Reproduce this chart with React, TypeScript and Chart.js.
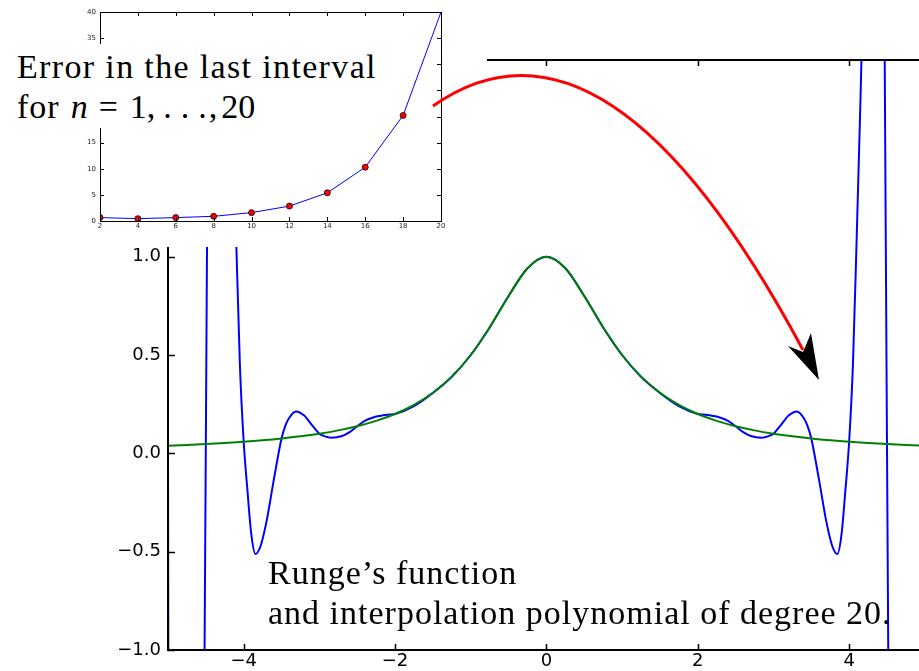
import React, { useEffect, useRef } from "react";
import { Chart, registerables } from "chart.js";

Chart.register(...registerables);

// ---- Data ----
// Runge's function samples (green)
const RUNGE_X = [-5, -4.75, -4.5, -4.25, -4, -3.75, -3.5, -3.25, -3, -2.75, -2.5, -2.25, -2, -1.75, -1.5, -1.25, -1, -0.75, -0.5, -0.25, 0,
  0.25, 0.5, 0.75, 1, 1.25, 1.5, 1.75, 2, 2.25, 2.5, 2.75, 3, 3.25, 3.5, 3.75, 4, 4.25, 4.5, 4.75, 5];
const RUNGE_Y = [0.0385, 0.0425, 0.0471, 0.0525, 0.0588, 0.0664, 0.0755, 0.0865, 0.1, 0.1168, 0.1379, 0.1649, 0.2, 0.2462, 0.3077, 0.3902, 0.5, 0.64, 0.8, 0.9412, 1,
  0.9412, 0.8, 0.64, 0.5, 0.3902, 0.3077, 0.2462, 0.2, 0.1649, 0.1379, 0.1168, 0.1, 0.0865, 0.0755, 0.0664, 0.0588, 0.0525, 0.0471, 0.0425, 0.0385];

// Interpolation polynomial of degree 20 (blue)
const POLY_X = [-5, -4.95, -4.9, -4.85, -4.8, -4.75, -4.7, -4.65, -4.6, -4.55, -4.52, -4.5, -4.47, -4.45, -4.4, -4.35, -4.3, -4.25, -4.2, -4.15, -4.1, -4.05, -4,
  -3.95, -3.9, -3.845, -3.78, -3.7, -3.6, -3.5, -3.45, -3.4, -3.31, -3.2, -3.1, -3, -2.95, -2.84, -2.7, -2.6, -2.5, -2.4, -2.3, -2.2, -2.1, -2,
  -1.75, -1.5, -1.25, -1, -0.75, -0.5, -0.25, 0, 0.25, 0.5, 0.75, 1, 1.25, 1.5, 1.75,
  2, 2.1, 2.2, 2.3, 2.4, 2.5, 2.6, 2.7, 2.84, 2.95, 3, 3.1, 3.2, 3.31, 3.4, 3.45, 3.5, 3.6, 3.7, 3.78, 3.845, 3.9, 3.95,
  4, 4.05, 4.1, 4.15, 4.2, 4.25, 4.3, 4.35, 4.4, 4.45, 4.47, 4.5, 4.52, 4.55, 4.6, 4.65, 4.7, 4.75, 4.8, 4.85, 4.9, 4.95, 5];
const POLY_Y = [0.038, -13, -29, -41, -45, -40, -29, -18, -9, -3.0, -1.2, 0.047, 2.0, 3.3, 4.6, 4.9, 4.5, 3.6, 2.6, 1.8, 1.1, 0.45, 0.059,
  -0.19, -0.41, -0.512, -0.475, -0.35, -0.13, 0.0755, 0.14, 0.18, 0.213, 0.192, 0.145, 0.1, 0.09, 0.079, 0.088, 0.108, 0.138, 0.165, 0.181, 0.19, 0.196, 0.2,
  0.24, 0.307, 0.389, 0.5, 0.64, 0.8, 0.941, 1, 0.941, 0.8, 0.64, 0.5, 0.389, 0.307, 0.24,
  0.2, 0.196, 0.19, 0.181, 0.165, 0.138, 0.108, 0.088, 0.079, 0.09, 0.1, 0.145, 0.192, 0.213, 0.18, 0.14, 0.0755, -0.13, -0.35, -0.475, -0.512, -0.41, -0.19,
  0.059, 0.45, 1.1, 1.8, 2.6, 3.6, 4.5, 4.9, 4.6, 3.3, 2.0, 0.047, -1.2, -3.0, -9, -18, -29, -40, -45, -41, -29, -13, 0.038];

// Inset: error in the last interval
const ERR_N = [2, 4, 6, 8, 10, 12, 14, 16, 18, 20];
const ERR_VAL = [0.65, 0.45, 0.65, 0.9, 1.6, 2.85, 5.4, 10.3, 20.2, 40];

const MAIN_X_TICKS = [-4, -2, 0, 2, 4];
const MAIN_Y_TICKS = [-1, -0.5, 0, 0.5, 1];
const INSET_X_TICKS = [2, 4, 6, 8, 10, 12, 14, 16, 18, 20];
const INSET_Y_TICKS = [0, 5, 10, 15, 20, 25, 30, 35, 40];

// ---- layout constants ----
const W = 919;
const H = 671;
const MASK_W = 487;
const MASK_H = 247;

const fmt = (v: number, d: number) => {
  const s = Math.abs(v).toFixed(d);
  return v < 0 ? "\u2212" + s : s;
};

const mainDeco = {
  id: "mainDeco",
  beforeDatasetsDraw(chart: any) {
    const { ctx, chartArea: a } = chart;
    ctx.save();
    ctx.beginPath();
    ctx.rect(a.left, a.top, a.right - a.left, a.bottom - a.top);
    ctx.rect(0, 0, MASK_W, MASK_H);
    ctx.clip("evenodd");
  },
  afterDatasetsDraw(chart: any) {
    chart.ctx.restore();
  },
  afterDraw(chart: any) {
    const { ctx, chartArea: a, scales } = chart;
    ctx.save();
    // spines
    ctx.strokeStyle = "#000";
    ctx.lineWidth = 2;
    ctx.beginPath();
    ctx.moveTo(a.left, MASK_H);
    ctx.lineTo(a.left, a.bottom);
    ctx.lineTo(a.right, a.bottom);
    ctx.moveTo(MASK_W, a.top);
    ctx.lineTo(a.right, a.top);
    ctx.stroke();
    // ticks (inward)
    ctx.lineWidth = 1.5;
    ctx.beginPath();
    MAIN_X_TICKS.forEach((v) => {
      const px = Math.round(scales.x.getPixelForValue(v)) + 0.5;
      ctx.moveTo(px, a.bottom);
      ctx.lineTo(px, a.bottom - 6);
      if (px > MASK_W) {
        ctx.moveTo(px, a.top);
        ctx.lineTo(px, a.top + 6);
      }
    });
    MAIN_Y_TICKS.forEach((v) => {
      const py = Math.round(scales.y.getPixelForValue(v)) + 0.5;
      if (py > MASK_H) {
        ctx.moveTo(a.left, py);
        ctx.lineTo(a.left + 7, py);
      }
    });
    ctx.stroke();
    // annotation arrow
    ctx.strokeStyle = "#ff0000";
    ctx.lineWidth = 3;
    ctx.beginPath();
    ctx.moveTo(433, 106);
    ctx.quadraticCurveTo(607, -16, 803, 350);
    ctx.stroke();
    ctx.fillStyle = "#000";
    ctx.beginPath();
    ctx.moveTo(819, 380);
    ctx.lineTo(788, 346);
    ctx.lineTo(803, 352);
    ctx.lineTo(811, 333);
    ctx.closePath();
    ctx.fill();
    ctx.restore();
  },
};

const insetDeco = {
  id: "insetDeco",
  beforeDraw(chart: any) {
    const { ctx, width, height } = chart;
    ctx.save();
    ctx.fillStyle = "#fff";
    ctx.fillRect(0, 0, width, height);
    ctx.restore();
  },
  afterDraw(chart: any) {
    const { ctx, chartArea: a, scales } = chart;
    ctx.save();
    ctx.strokeStyle = "#000";
    ctx.lineWidth = 1;
    ctx.strokeRect(Math.round(a.left) + 0.5, Math.round(a.top) + 0.5, Math.round(a.right - a.left), Math.round(a.bottom - a.top));
    ctx.beginPath();
    INSET_X_TICKS.forEach((v) => {
      const px = Math.round(scales.x.getPixelForValue(v)) + 0.5;
      ctx.moveTo(px, a.bottom);
      ctx.lineTo(px, a.bottom - 4);
      ctx.moveTo(px, a.top);
      ctx.lineTo(px, a.top + 4);
    });
    INSET_Y_TICKS.forEach((v) => {
      const py = Math.round(scales.y.getPixelForValue(v)) + 0.5;
      ctx.moveTo(a.left, py);
      ctx.lineTo(a.left + 4, py);
      ctx.moveTo(a.right, py);
      ctx.lineTo(a.right - 4, py);
    });
    ctx.stroke();
    ctx.restore();
  },
};

export default function App() {
  const mainRef = useRef<HTMLCanvasElement>(null);
  const insetRef = useRef<HTMLCanvasElement>(null);

  useEffect(() => {
    const rungeData = RUNGE_X.map((x, i) => ({ x, y: RUNGE_Y[i] }));
    const polyData = POLY_X.map((x, i) => ({ x, y: POLY_Y[i] }));
    const errData = ERR_N.map((x, i) => ({ x, y: ERR_VAL[i] }));

    const main = new Chart(mainRef.current as HTMLCanvasElement, {
      type: "line",
      data: {
        datasets: [
          {
            label: "Runge",
            data: rungeData,
            borderColor: "#008000",
            borderWidth: 2,
            pointRadius: 0,
            cubicInterpolationMode: "monotone",
          },
          {
            label: "Polynomial",
            data: polyData,
            borderColor: "#0000ff",
            borderWidth: 2,
            pointRadius: 0,
            cubicInterpolationMode: "monotone",
          },
        ],
      },
      options: {
        animation: false,
        responsive: false,
        maintainAspectRatio: false,
        layout: { padding: { top: 60, left: 0, right: 0, bottom: 0 } },
        plugins: { legend: { display: false }, tooltip: { enabled: false } },
        scales: {
          x: {
            type: "linear",
            min: -5,
            max: 4.923,
            afterBuildTicks: (s: any) => {
              s.ticks = MAIN_X_TICKS.map((v) => ({ value: v }));
            },
            afterFit: (s: any) => {
              s.height = 21;
            },
            grid: { display: false, drawTicks: false },
            border: { display: false },
            ticks: {
              autoSkip: false,
              maxRotation: 0,
              padding: 1,
              color: "#000",
              font: { family: "DejaVu Sans", size: 18 },
              callback: (v: any) => fmt(Number(v), 0),
            },
          },
          y: {
            type: "linear",
            min: -1,
            max: 2,
            afterBuildTicks: (s: any) => {
              s.ticks = MAIN_Y_TICKS.map((v) => ({ value: v }));
            },
            afterFit: (s: any) => {
              s.width = 168;
            },
            grid: { display: false, drawTicks: false },
            border: { display: false },
            ticks: {
              autoSkip: false,
              padding: 7,
              color: "#000",
              font: { family: "DejaVu Sans", size: 18 },
              callback: (v: any) => fmt(Number(v), 1),
            },
          },
        },
      },
      plugins: [mainDeco],
    } as any);

    const inset = new Chart(insetRef.current as HTMLCanvasElement, {
      type: "line",
      data: {
        datasets: [
          {
            label: "Error",
            data: errData,
            borderColor: "#0000ff",
            borderWidth: 1,
            pointRadius: (c: any) => (c.dataIndex === ERR_N.length - 1 ? 0 : 3),
            pointBackgroundColor: "#ff0000",
            pointBorderColor: "#000",
            pointBorderWidth: 0.8,
          },
        ],
      },
      options: {
        animation: false,
        responsive: false,
        maintainAspectRatio: false,
        layout: { padding: { top: 12, left: 0, right: 46, bottom: 0 } },
        plugins: { legend: { display: false }, tooltip: { enabled: false } },
        scales: {
          x: {
            type: "linear",
            min: 2,
            max: 20,
            afterBuildTicks: (s: any) => {
              s.ticks = INSET_X_TICKS.map((v) => ({ value: v }));
            },
            afterFit: (s: any) => {
              s.height = 26;
            },
            grid: { display: false, drawTicks: false },
            border: { display: false },
            ticks: {
              autoSkip: false,
              maxRotation: 0,
              padding: 1,
              color: "#222",
              font: { family: "DejaVu Sans", size: 7 },
            },
          },
          y: {
            type: "linear",
            min: 0,
            max: 40,
            afterBuildTicks: (s: any) => {
              s.ticks = INSET_Y_TICKS.map((v) => ({ value: v }));
            },
            afterFit: (s: any) => {
              s.width = 100;
            },
            grid: { display: false, drawTicks: false },
            border: { display: false },
            ticks: {
              autoSkip: false,
              padding: 4,
              color: "#222",
              font: { family: "DejaVu Sans", size: 7 },
            },
          },
        },
      },
      plugins: [insetDeco],
    } as any);

    return () => {
      main.destroy();
      inset.destroy();
    };
  }, []);

  const textStyle: React.CSSProperties = {
    position: "absolute",
    fontFamily: '"Liberation Serif", "Times New Roman", serif',
    fontSize: 34,
    lineHeight: "40px",
    letterSpacing: "1px",
    whiteSpace: "pre",
    color: "#000",
  };

  const sp = (px: number): React.CSSProperties => ({ marginLeft: px });

  return (
    <div style={{ position: "absolute", left: 0, top: 0, width: W, height: H, overflow: "hidden", background: "#fff" }}>
      <canvas ref={insetRef} width={MASK_W} height={MASK_H} style={{ position: "absolute", left: 0, top: 0, width: MASK_W, height: MASK_H }} />
      <canvas ref={mainRef} width={W} height={H} style={{ position: "absolute", left: 0, top: 0, width: W, height: H }} />
      <div
        style={{
          ...textStyle,
          left: 8,
          top: 44,
          width: 378,
          height: 84,
          paddingTop: 2.5,
          paddingLeft: 9,
          boxSizing: "border-box",
          background: "#fff",
        }}
      >
        <div style={{ letterSpacing: "1.35px" }}>Error in the last interval</div>
        <div style={{ letterSpacing: "0px" }}>
          <span style={{ letterSpacing: "1px" }}>for</span>
          <i style={sp(11)}>n</i>
          <span style={sp(11)}>=</span>
          <span style={sp(12)}>1</span>
          <span>,</span>
          <span style={sp(8)}>.</span>
          <span style={sp(9)}>.</span>
          <span style={sp(9)}>.</span>
          <span style={sp(2)}>,</span>
          <span style={sp(4)}>20</span>
        </div>
      </div>
      <div style={{ ...textStyle, left: 268, top: 552.5 }}>
        <div>Runge’s function</div>
        <div>and interpolation polynomial of degree 20.</div>
      </div>
    </div>
  );
}
